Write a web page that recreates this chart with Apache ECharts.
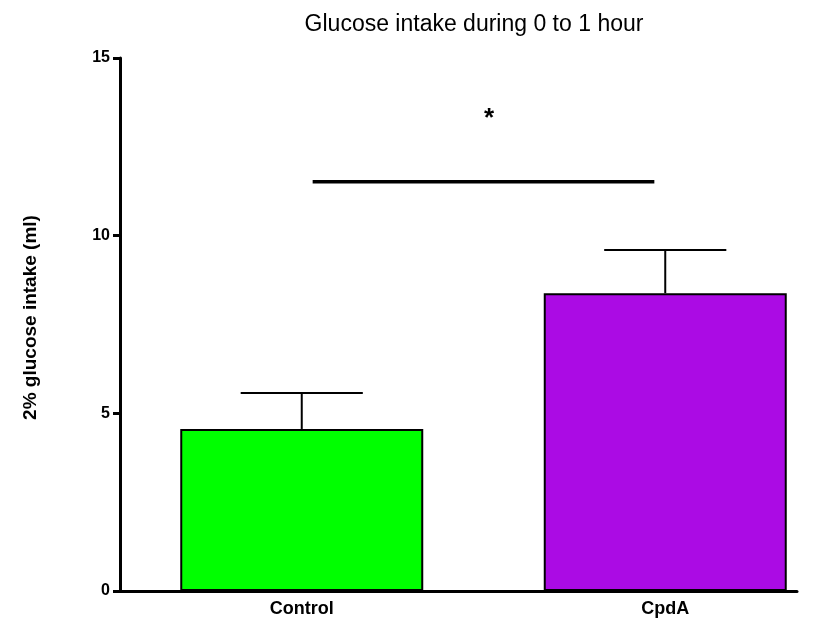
<!DOCTYPE html>
<html>
<head>
<meta charset="utf-8">
<script src="https://cdn.jsdelivr.net/npm/echarts@6/dist/echarts.min.js"></script>
<style>html,body{margin:0;padding:0;background:#fff;}#c{width:837px;height:630px;}</style>
</head>
<body>
<div id="c"></div>
<script>
const categories = ['Control', 'CpdA'];
const means = [4.56, 8.38];
const upper = [5.57, 9.60];
const barColors = ['#00FF00', '#AB0BE4'];
const yTicks = [0, 5, 10, 15];
const sigBracket = [[0.03, 0.97, 11.52]];
const sigMark = [[0.515, 13.3, '*']];

const chart = echarts.init(document.getElementById('c'), null, {renderer: 'canvas'});
const font = 'Arial, "Liberation Sans", sans-serif';

chart.setOption({
  animation: false,
  backgroundColor: '#fff',
  title: {
    text: 'Glucose intake during 0 to 1 hour',
    left: 469, top: 8, textAlign: 'center',
    textStyle: {fontFamily: font, fontSize: 23, fontWeight: 'normal', color: '#000'}
  },
  grid: [
    {left: 120, right: 40, top: 58, bottom: 39, outerBoundsMode: 'none'},
    {left: 120, width: 727, top: 58, bottom: 39, outerBoundsMode: 'none'}
  ],
  xAxis: [
    {gridIndex: 0, type: 'value', min: 0, max: 1, axisLine: {show: true, onZero: false, lineStyle: {color: '#000', width: 3}},
     axisTick: {show: false}, axisLabel: {show: false}, splitLine: {show: false}},
    {gridIndex: 1, type: 'category', data: categories, axisLine: {show: false}, axisTick: {show: false},
     axisLabel: {color: '#000', fontFamily: font, fontSize: 18, fontWeight: 'bold', margin: 9}},
    {gridIndex: 1, type: 'value', min: -0.5, max: 1.5, show: false}
  ],
  yAxis: [
    {gridIndex: 0, type: 'value', min: 0, max: 15, interval: 5,
     name: '2% glucose intake (ml)', nameLocation: 'middle', nameGap: 80, nameRotate: 90,
     nameTextStyle: {color: '#000', fontFamily: font, fontSize: 19, fontWeight: 'bold', padding: [0, 0, 0, 14]},
     axisLine: {show: true, lineStyle: {color: '#000', width: 3}},
     axisTick: {show: true, length: 7, lineStyle: {color: '#000', width: 3}},
     axisLabel: {color: '#000', fontFamily: font, fontSize: 16, fontWeight: 'bold', margin: 10,
                 formatter: v => yTicks.includes(v) ? String(v) : ''},
     splitLine: {show: false}},
    {gridIndex: 1, type: 'value', min: 0, max: 15, show: false}
  ],
  series: [
    {type: 'bar', xAxisIndex: 1, yAxisIndex: 1, barWidth: 243,
     data: means.map((v, i) => ({value: v, itemStyle: {color: barColors[i], borderColor: '#000', borderWidth: 2}}))},
    {type: 'custom', xAxisIndex: 2, yAxisIndex: 1, z: 5,
     data: means.map((m, i) => [i, m, upper[i]]),
     renderItem: function (params, api) {
       const base = api.coord([api.value(0), api.value(1)]);
       const top = api.coord([api.value(0), api.value(2)]);
       const half = api.size([1, 0])[0] * 0.168;
       return {type: 'group', children: [
         {type: 'line', shape: {x1: base[0], y1: base[1], x2: top[0], y2: top[1]}, style: {stroke: '#000', lineWidth: 2}},
         {type: 'line', shape: {x1: top[0] - half, y1: top[1], x2: top[0] + half, y2: top[1]}, style: {stroke: '#000', lineWidth: 2}}
       ]};
     }},
    {type: 'custom', xAxisIndex: 2, yAxisIndex: 1, z: 5,
     data: sigBracket,
     renderItem: function (params, api) {
       const a = api.coord([api.value(0), api.value(2)]);
       const b = api.coord([api.value(1), api.value(2)]);
       return {type: 'line', shape: {x1: a[0], y1: a[1], x2: b[0], y2: b[1]}, style: {stroke: '#000', lineWidth: 3.5}};
     }},
    {type: 'custom', xAxisIndex: 2, yAxisIndex: 1, z: 5,
     data: sigMark,
     renderItem: function (params, api) {
       const p = api.coord([api.value(0), api.value(1)]);
       return {type: 'text', x: p[0], y: p[1], style: {text: sigMark[params.dataIndex][2], fill: '#000',
               font: 'bold 26px Arial, "Liberation Sans", sans-serif', align: 'center', verticalAlign: 'middle'}};
     }}
  ]
});
</script>
</body>
</html>
